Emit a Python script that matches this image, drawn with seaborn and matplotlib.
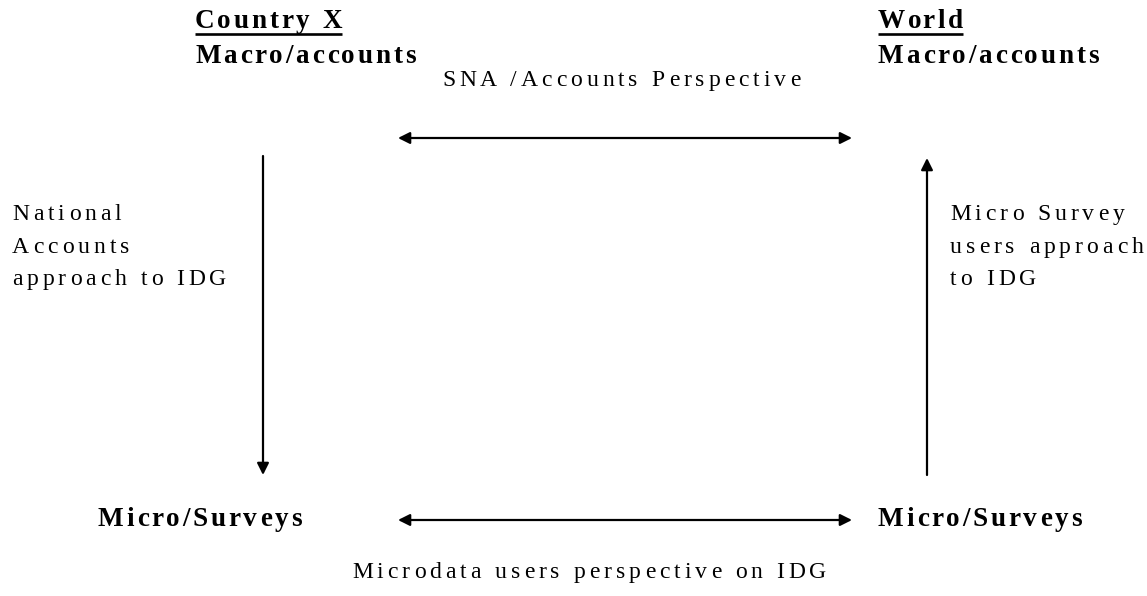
import matplotlib
matplotlib.use("Agg")
import matplotlib.pyplot as plt
from matplotlib.font_manager import FontProperties
import seaborn as sns

# corner labels (header, subheader); left x and baselines in pixel space
header_labels = ["Country X", "World"]
header_x = [195, 878]
header_y = [28, 63]
header_sub = "Macro/accounts"
underline_y = 33.5

bottom_label = "Micro/Surveys"
bottom_x = [98, 878]
bottom_y = 526

# side descriptions
left_lines = ["National", "Accounts", "approach to IDG"]
right_lines = ["Micro Survey", "users approach", "to IDG"]
side_x = [12, 950]
side_y = [220, 253, 285]

captions = ["SNA /Accounts Perspective", "Microdata users perspective on IDG"]
caption_x = [442, 352]
caption_y = [86, 578]

# arrows: (x0, y0, x1, y1, style)
arrows = [
    (398, 138, 852, 138, "<|-|>"),
    (398, 520, 852, 520, "<|-|>"),
    (263, 156, 263, 475, "-|>"),
    (927, 475, 927, 158, "-|>"),
]

sns.set_theme(style="white")
plt.rcParams["font.family"] = ["Liberation Serif", "DejaVu Serif"]

fig, ax = plt.subplots(figsize=(11.47, 5.96), dpi=100)
fig.subplots_adjust(0, 0, 1, 1)
ax.set_xlim(0, 1147)
ax.set_ylim(596, 0)
ax.axis("off")
renderer = fig.canvas.get_renderer()

BOLD = FontProperties(family=["Liberation Serif"], weight="bold", size=19.5)
PLAIN = FontProperties(family=["Liberation Serif"], size=17)


def text_width(s, fp):
    # pad with a bar so trailing spaces are counted
    w, _, _ = renderer.get_text_width_height_descent(s + "|", fp, ismath=False)
    wb, _, _ = renderer.get_text_width_height_descent("|", fp, ismath=False)
    return w - wb


def spaced_text(x, y, s, fp, spacing):
    """Draw s starting at x with extra letter spacing (1 data unit = 1 px)."""
    for i, ch in enumerate(s):
        if ch == " ":
            continue
        xi = x + text_width(s[:i], fp) + i * spacing
        ax.text(xi, y, ch, fontproperties=fp, color="black",
                ha="left", va="baseline")
    last = len(s) - 1
    return x + text_width(s[:last], fp) + last * spacing + text_width(s[last], fp)


for lab, x in zip(header_labels, header_x):
    x_end = spaced_text(x, header_y[0], lab, BOLD, 2.8)
    ax.plot([x, x_end], [underline_y, underline_y], color="black",
            lw=1.9, solid_capstyle="butt")
    spaced_text(x, header_y[1], header_sub, BOLD, 2.8)

for x in bottom_x:
    spaced_text(x, bottom_y, bottom_label, BOLD, 2.8)

for lines, x in zip([left_lines, right_lines], side_x):
    for line, y in zip(lines, side_y):
        spaced_text(x, y, line, PLAIN, 4.0)

for cap, x, y in zip(captions, caption_x, caption_y):
    spaced_text(x, y, cap, PLAIN, 4.0)

for x0, y0, x1, y1, style in arrows:
    ax.annotate("", xy=(x1, y1), xytext=(x0, y0),
                arrowprops=dict(arrowstyle=f"{style},head_length=0.7,head_width=0.35",
                                mutation_scale=10, lw=1.6, color="black",
                                shrinkA=0, shrinkB=0))

fig.savefig("out.png", dpi=100)
